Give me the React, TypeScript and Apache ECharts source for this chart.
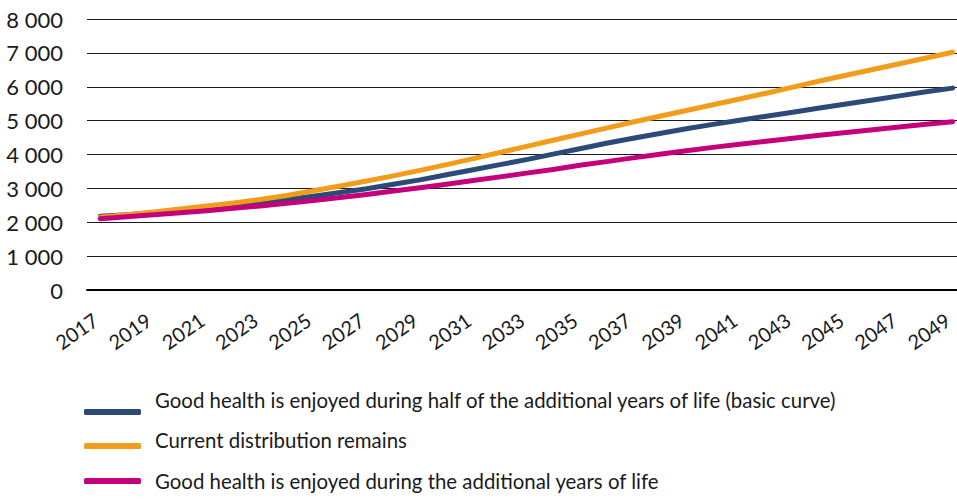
import React, { useEffect, useRef } from "react";
import * as echarts from "echarts";

const years: string[] = [];
for (let y = 2017; y <= 2049; y++) years.push(String(y));

const seriesNames = [
  "Good health is enjoyed during half of the additional years of life (basic curve)",
  "Current distribution remains",
  "Good health is enjoyed during the additional years of life",
];

const basicCurve = [
  2180, 2220, 2280, 2350, 2420, 2500, 2580, 2670, 2770, 2880, 2990, 3120, 3250,
  3400, 3550, 3700, 3850, 4010, 4170, 4330, 4480, 4620, 4760, 4890, 5010, 5130,
  5250, 5370, 5490, 5610, 5730, 5850, 5960,
];

const currentDistribution = [
  2150, 2220, 2300, 2390, 2480, 2570, 2670, 2790, 2930, 3070, 3220, 3370, 3530,
  3700, 3880, 4060, 4240, 4420, 4600, 4780, 4960, 5130, 5300, 5470, 5640, 5810,
  5990, 6170, 6340, 6510, 6680, 6850, 7020,
];

const goodHealthAll = [
  2100, 2160, 2220, 2280, 2340, 2410, 2480, 2560, 2640, 2730, 2820, 2920, 3020,
  3120, 3230, 3340, 3450, 3560, 3680, 3790, 3900, 4010, 4110, 4210, 4300, 4390,
  4480, 4570, 4650, 4730, 4810, 4890, 4970,
];

const colors = ["#2b4a77", "#f39c1a", "#c5007d"];

const FONT = "Lato, 'Noto Sans', sans-serif";

function legendFor(index: number, top: number, shiftUp: number) {
  return {
    orient: "vertical",
    left: 84,
    top,
    padding: 0,
    itemWidth: 57,
    itemHeight: 6,
    icon: "roundRect",
    data: [seriesNames[index]],
    selectedMode: false,
    formatter: (name: string) => `{t|${name}}`,
    textStyle: {
      fontSize: 20.4,
      color: "#1a1a1a",
      fontFamily: FONT,
      rich: {
        t: {
          fontSize: 20.4,
          color: "#1a1a1a",
          fontFamily: FONT,
          lineHeight: 24,
          padding: [0, 0, shiftUp * 2, 9],
        },
      },
    },
  };
}

export default function App() {
  const ref = useRef<HTMLDivElement>(null);
  useEffect(() => {
    if (!ref.current) return;
    const chart = echarts.init(ref.current, null, { renderer: "svg" });
    const data = [basicCurve, currentDistribution, goodHealthAll];
    chart.setOption({
      animation: false,
      backgroundColor: "#ffffff",
      textStyle: { fontFamily: FONT },
      grid: { left: 87, right: 0, top: 19, bottom: 210, containLabel: false },
      xAxis: {
        type: "category",
        data: years,
        boundaryGap: true,
        axisLine: { lineStyle: { color: "#000", width: 2 } },
        axisTick: { show: false },
        axisLabel: {
          interval: 1,
          rotate: 35,
          margin: 24,
          fontSize: 20,
          color: "#1a1a1a",
          fontFamily: FONT,
          formatter: (v: string) => `{y|${v}}`,
          rich: {
            y: {
              fontSize: 20,
              color: "#1a1a1a",
              fontFamily: FONT,
              padding: [0, 6, 0, 0],
            },
          },
        },
      },
      yAxis: {
        type: "value",
        min: 0,
        max: 8000,
        interval: 1000,
        axisLine: { show: false },
        axisTick: { show: false },
        splitLine: { lineStyle: { color: "#1a1a1a", width: 1 } },
        axisLabel: {
          margin: 24,
          fontSize: 22,
          color: "#1a1a1a",
          fontFamily: FONT,
          formatter: (v: number) =>
            String(v).replace(/\B(?=(\d{3})+(?!\d))/g, " "),
        },
      },
      legend: [legendFor(0, 390, 12), legendFor(1, 430, 6), legendFor(2, 471, 0)],
      series: seriesNames.map((name, i) => ({
        name,
        type: "line",
        data: data[i],
        showSymbol: false,
        symbol: "none",
        smooth: false,
        color: colors[i],
        lineStyle: { width: 5, color: colors[i], cap: "round", join: "round" },
      })),
    });
    return () => chart.dispose();
  }, []);
  return (
    <div
      style={{
        position: "fixed",
        left: 0,
        top: 0,
        width: 957,
        height: 500,
        overflow: "hidden",
      }}
    >
      <div ref={ref} style={{ width: 966, height: 500 }} />
    </div>
  );
}
